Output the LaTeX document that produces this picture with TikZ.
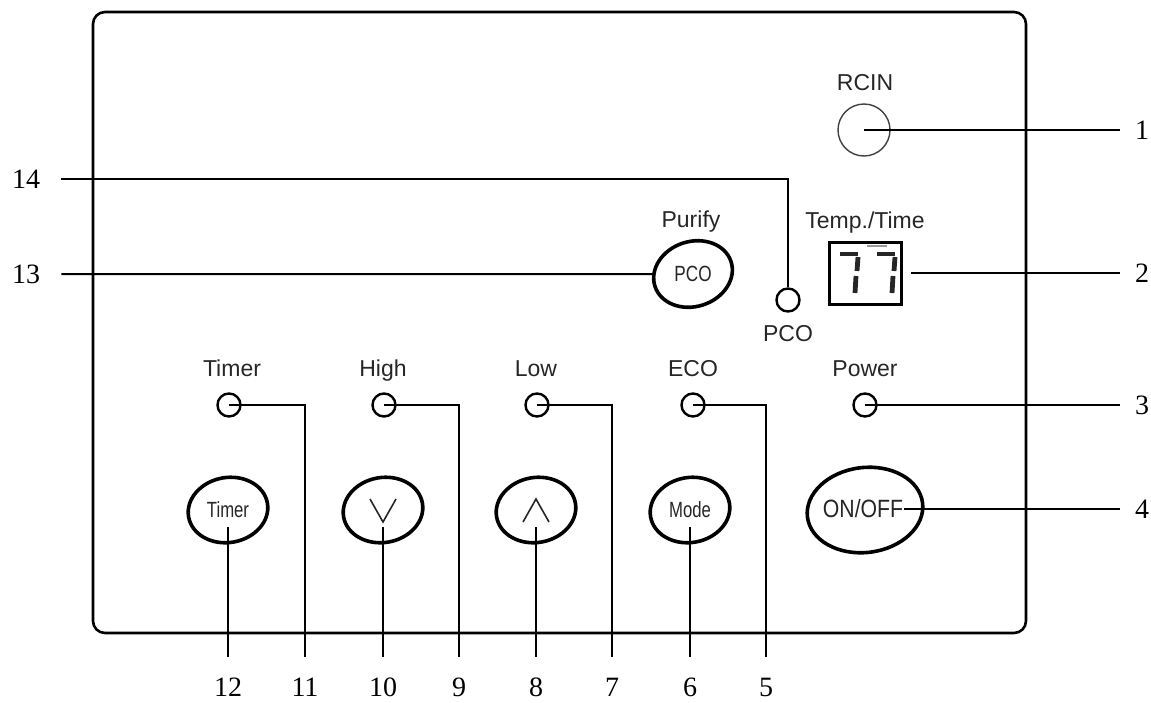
\documentclass[tikz,border=0pt]{standalone}
\usepackage{fontspec}
\setmainfont{Liberation Serif}
\setsansfont{Liberation Sans}
\usetikzlibrary{shapes.geometric}

\begin{document}
\begin{tikzpicture}[x=0.5pt,y=-0.5pt,
  lbl/.style={font=\sffamily\fontsize{11.5}{13}\selectfont,text=black!85,
    inner sep=0pt,text height=8.2pt,text depth=0pt},
  num/.style={font=\fontsize{14}{16}\selectfont,inner sep=0pt,text height=9.5pt,text depth=0pt},
  led/.style={draw,circle,line width=1.2pt,minimum size=11.5pt,inner sep=0pt},
  btn/.style={draw,ellipse,line width=1.8pt,minimum width=40pt,minimum height=32.5pt,
    inner sep=0pt,rotate=10},
  btxt/.style={font=\sffamily\fontsize{11}{13}\selectfont,text=black!85,inner sep=0pt},
  seg/.style={line width=2.4pt,black!85},
  lead/.style={line width=1pt}]
  \useasboundingbox (0,0) rectangle (1151,702);
  \draw[line width=1.3pt,rounded corners=6pt] (93,12) rectangle (1026,633);

  % upper part
  \node[lbl] (rcinL) at (865,82) {RCIN};
  \node[draw=black!75,line width=.7pt,circle,minimum size=26pt,inner sep=0pt] (rcin) at (864,130) {};
  \node[lbl] (tempL) at (865,220) {Temp./Time};
  \node[draw,line width=1.5pt,minimum width=36pt,minimum height=31pt,inner sep=0pt] (disp) at (865,273) {};
  \foreach \dx in {0,37} {
    \draw[seg] (840+\dx,254) -- (858+\dx,254);
    \draw[seg] (858+\dx,257) -- (857+\dx,271);
    \draw[seg] (856+\dx,276) -- (855+\dx,293);
  }
  \draw[black!40,line width=.8pt] (867,246) -- (887,246);
  \node[lbl] (purL) at (691,219) {Purify};
  \node[btn,rotate=8] (bPCO) at (693,274) {};
  \node[btxt] (tPCO) at (bPCO) {\scalebox{.78}[1]{PCO}};
  \node[led] (lPCO) at (788,300) {};
  \node[lbl] (pcoL) at (788,333) {PCO};

  % indicator row
  \node[lbl] (timL) at (232,368) {Timer};
  \node[lbl] (highL) at (383,368) {High};
  \node[lbl] (lowL) at (536,368) {Low};
  \node[lbl] (ecoL) at (693,368) {ECO};
  \node[lbl] (powL) at (865,368) {Power};
  \node[led] (lTim) at (229,405) {};
  \node[led] (lHigh) at (384,405) {};
  \node[led] (lLow) at (537,405) {};
  \node[led] (lEco) at (693,405) {};
  \node[led] (lPow) at (865,405) {};

  % buttons
  \node[btn] (bTim) at (228,510) {};
  \node[btxt] (tTim) at (bTim) {\scalebox{.76}[1]{Timer}};
  \node[btn] (bDown) at (383,510) {};
  \draw[black!85,line width=.8pt] (370,499) -- (383,522) -- (396,499);
  \node[btn] (bUp) at (536,510) {};
  \draw[black!85,line width=.8pt] (523,522) -- (536,499) -- (549,522);
  \node[btn] (bMode) at (690,510) {};
  \node[btxt] (tMode) at (bMode) {\scalebox{.76}[1]{Mode}};
  \node[btn,minimum width=58pt,minimum height=42.5pt,rotate=-3] (bOn) at (865,510) {};
  \node[btxt,font=\sffamily\fontsize{12.5}{14}\selectfont] (tOn) at (863,509) {\scalebox{.85}[1]{ON/OFF}};

  % numbers
  \node[num] (n1) at (1142,130) {1};
  \node[num] (n2) at (1142,273) {2};
  \node[num] (n3) at (1142,405) {3};
  \node[num] (n4) at (1142,509) {4};
  \node[num] (n5) at (766,687) {5};
  \node[num] (n6) at (690,687) {6};
  \node[num] (n7) at (612,687) {7};
  \node[num] (n8) at (536,687) {8};
  \node[num] (n9) at (459,687) {9};
  \node[num] (n10) at (383,687) {10};
  \node[num] (n11) at (305,687) {11};
  \node[num] (n12) at (228,687) {12};
  \node[num] (n13) at (26,274) {13};
  \node[num] (n14) at (26,179) {14};

  % leaders
  \draw[lead,shorten >=7.5pt] (rcin.center) -- (n1.west);
  \draw[lead,shorten <=4pt,shorten >=7.5pt] (disp.east) -- (n2.west);
  \draw[lead,shorten >=7.5pt] (lPow.center) -- (n3.west);
  \draw[lead,shorten >=7.5pt] (tOn.east) -- (n4.west);
  \draw[lead,shorten >=10pt] (lEco.center) -| (n5.north);
  \draw[lead,shorten >=10pt] ([yshift=-8.5pt]bMode.center) -- (n6.north);
  \draw[lead,shorten >=10pt] (lLow.center) -| (n7.north);
  \draw[lead,shorten >=10pt] ([yshift=-8.5pt]bUp.center) -- (n8.north);
  \draw[lead,shorten >=10pt] (lHigh.center) -| (n9.north);
  \draw[lead,shorten >=10pt] ([yshift=-8.5pt]bDown.center) -- (n10.north);
  \draw[lead,shorten >=10pt] (lTim.center) -| (n11.north);
  \draw[lead,shorten >=10pt] ([yshift=-8.5pt]bTim.center) -- (n12.north);
  \draw[lead,shorten <=10.5pt] (n13.east) -- (bPCO);
  \draw[lead,shorten <=10.5pt] (n14.east) -| (lPCO.north);
\end{tikzpicture}
\end{document}
